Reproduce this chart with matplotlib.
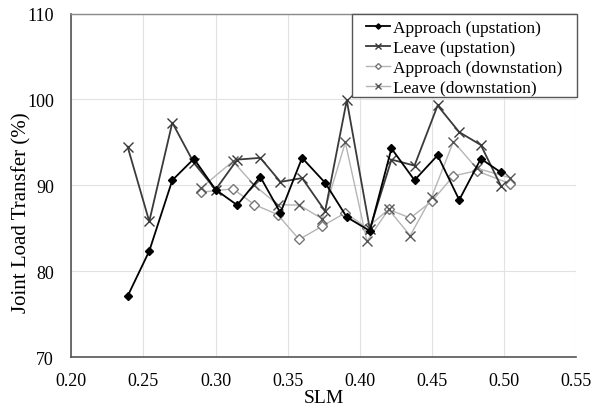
import matplotlib
matplotlib.use("Agg")
import matplotlib.pyplot as plt
from matplotlib.patches import Rectangle

plt.rcParams["font.family"] = ["Liberation Serif", "DejaVu Serif"]

# upstation runs
slm_up = [0.239, 0.254, 0.270, 0.285, 0.300, 0.315, 0.331, 0.345, 0.360,
          0.376, 0.391, 0.407, 0.422, 0.438, 0.454, 0.469, 0.484, 0.498]
approach_up = [77.1, 82.35, 90.6, 93.1, 89.5, 87.7, 91.0, 86.8, 93.2,
               90.3, 86.3, 84.7, 94.3, 90.6, 93.5, 88.3, 93.1, 91.5]
leave_up = [94.5, 85.8, 97.3, 92.6, 89.5, 93.0, 93.2, 90.4, 90.85,
            87.0, 99.9, 84.9, 93.0, 92.3, 99.3, 96.2, 94.7, 89.9]

# downstation runs
slm_down = [0.290, 0.312, 0.327, 0.343, 0.358, 0.374, 0.390,
            0.405, 0.420, 0.435, 0.450, 0.465, 0.481, 0.504]
approach_down = [89.2, 89.6, 87.75, 86.6, 83.7, 85.25, 86.8,
                 85.05, 87.2, 86.2, 88.15, 91.1, 91.7, 90.2]
leave_down = [89.7, 92.8, 90.0, 87.75, 87.7, 86.1, 95.0,
              83.5, 87.2, 84.15, 88.7, 95.1, 92.0, 90.9]

x_ticks = [0.20, 0.25, 0.30, 0.35, 0.40, 0.45, 0.50, 0.55]
y_ticks = [70, 80, 90, 100, 110]

fig, ax = plt.subplots(figsize=(6.0, 4.06), dpi=100)
fig.subplots_adjust(left=0.119, right=0.96, top=0.964, bottom=0.118)

ax.plot(slm_up, approach_up, color="black", lw=1.3, marker="D", ms=4.5,
        mfc="black", mec="black", label="Approach (upstation)", zorder=4)
ax.plot(slm_up, leave_up, color="#3a3a3a", lw=1.3, marker="x", ms=6.5,
        mew=1.0, label="Leave (upstation)", zorder=3)
ax.plot(slm_down, approach_down, color="#b5b5b5", lw=1.0, marker="D", ms=5,
        mfc="white", mec="#777777", mew=1.0, label="Approach (downstation)", zorder=2)
ax.plot(slm_down, leave_down, color="#b5b5b5", lw=1.0, marker="x", ms=6.5,
        mew=1.0, mec="#555555", label="Leave (downstation)", zorder=2)

ax.set_xlim(0.20, 0.55)
ax.set_ylim(70, 110)
ax.set_xticks(x_ticks)
ax.set_xticklabels([f"{t:.2f}" for t in x_ticks])
ax.set_yticks(y_ticks)
ax.tick_params(axis="both", length=0, labelsize=13)
ax.tick_params(axis="x", pad=11)
ax.tick_params(axis="y", pad=12.5)
ax.grid(True, color="#e2e2e2", lw=0.8)
ax.set_axisbelow(True)

ax.spines["right"].set_visible(False)
ax.spines["top"].set_color("#8a8a8a")
ax.spines["top"].set_linewidth(1.0)
for side in ["left", "bottom"]:
    ax.spines[side].set_color("#555555")
    ax.spines[side].set_linewidth(1.2)

ax.set_xlabel("SLM", fontsize=14, labelpad=0)
ax.set_ylabel("Joint Load Transfer (%)", fontsize=15)
ax.yaxis.set_label_coords(-0.079, 0.423)

# legend box drawn separately so it can be wider than the text block
ax.add_patch(Rectangle((0.556, 0.757), 0.445, 0.243, transform=ax.transAxes,
                       facecolor="white", edgecolor="#555555", lw=1.0,
                       clip_on=False, zorder=5))
leg = ax.legend(loc="upper left", bbox_to_anchor=(0.584, 0.982), fontsize=12.5,
                frameon=False, borderpad=0, labelspacing=0.22, handlelength=1.35,
                handletextpad=0.2, borderaxespad=0.0, markerscale=0.6)
leg.set_zorder(6)

fig.savefig("out.png", dpi=100)
